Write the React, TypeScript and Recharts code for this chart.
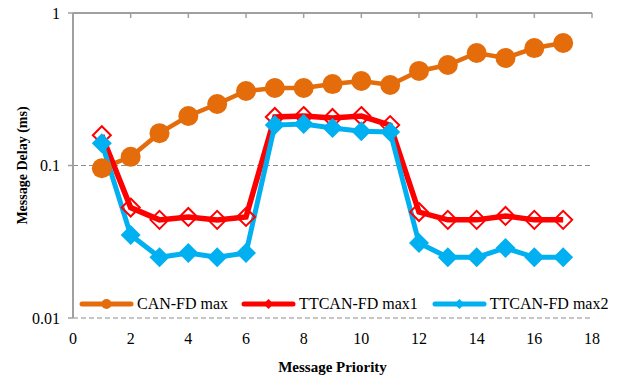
import { CartesianGrid, Legend, Line, LineChart, ReferenceLine, XAxis, YAxis } from "recharts";

const priorities = [1, 2, 3, 4, 5, 6, 7, 8, 9, 10, 11, 12, 13, 14, 15, 16, 17];
const canFdMax = [0.096, 0.114, 0.163, 0.211, 0.253, 0.308, 0.322, 0.322, 0.342, 0.358, 0.337, 0.417, 0.456, 0.547, 0.507, 0.589, 0.636];
const ttcanFdMax1 = [0.158, 0.053, 0.044, 0.046, 0.044, 0.046, 0.208, 0.211, 0.205, 0.211, 0.184, 0.0495, 0.044, 0.044, 0.0467, 0.044, 0.044];
const ttcanFdMax2 = [0.14, 0.035, 0.025, 0.0267, 0.025, 0.0267, 0.184, 0.187, 0.176, 0.168, 0.166, 0.031, 0.025, 0.025, 0.0288, 0.025, 0.025];
const xTicks = [0, 2, 4, 6, 8, 10, 12, 14, 16, 18];
const yTicks = [0.01, 0.1, 1];

const ORANGE = "#E46C0A";
const RED = "#FF0000";
const BLUE = "#00B0F0";
const AXIS = "#A0A0A0";
const GRID = "#8C8C8C";
const FONT = '"Liberation Serif", "Times New Roman", serif';

const data = priorities.map((p, i) => ({
  priority: p,
  canFd: canFdMax[i],
  max1: ttcanFdMax1[i],
  max2: ttcanFdMax2[i],
}));

const diamondPath = (cx: number, cy: number, r: number) =>
  `M${cx},${cy - r} L${cx + r},${cy} L${cx},${cy + r} L${cx - r},${cy} Z`;

const circleDot = (p: any) => <circle key={`c${p.index}`} cx={p.cx} cy={p.cy} r={10} fill={ORANGE} />;
const hollowDiamond = (p: any) => (
  <path key={`h${p.index}`} d={diamondPath(p.cx, p.cy, 9)} fill="none" stroke={RED} strokeWidth={2} />
);
const solidDiamond = (p: any) => <path key={`s${p.index}`} d={diamondPath(p.cx, p.cy, 10)} fill={BLUE} />;

// short tick hanging down from the top frame line
const topTick = (p: any) => {
  const y = Math.min(p.y1, p.y2);
  return <line x1={p.x1} y1={y} x2={p.x1} y2={y + 5} stroke={AXIS} strokeWidth={1.5} />;
};

function LegendRow({ payload }: any) {
  const gaps = [0, 13, 14];
  return (
    <div style={{ display: "flex", alignItems: "center", fontFamily: FONT, fontSize: 16, color: "#000" }}>
      {(payload || []).map((e: any, i: number) => (
        <div key={e.value} style={{ display: "flex", alignItems: "center", marginLeft: gaps[i] }}>
          <svg width={55} height={14} style={{ marginRight: 3 }}>
            <line x1={3} y1={7} x2={52} y2={7} stroke={e.color} strokeWidth={5} strokeLinecap="round" />
            {e.dataKey === "canFd" ? (
              <circle cx={27.5} cy={7} r={5} fill={e.color} />
            ) : (
              <path d={diamondPath(27.5, 7, 5)} fill={e.color} />
            )}
          </svg>
          <span style={{ lineHeight: "16px", whiteSpace: "nowrap" }}>{e.value}</span>
        </div>
      ))}
    </div>
  );
}

export default function App() {
  return (
    <div style={{ width: 620, height: 376, background: "#fff", fontFamily: FONT }}>
      <style>{"body{margin:0}"}</style>
      <LineChart width={620} height={376} data={data} margin={{ top: 13, right: 28, left: 0, bottom: 0 }}>
        <CartesianGrid vertical={false} stroke={GRID} strokeDasharray="5 3" />
        <XAxis
          dataKey="priority"
          type="number"
          domain={[0, 18]}
          ticks={xTicks}
          axisLine={false}
          tickLine={false}
          tickSize={0}
          tickMargin={15}
          height={58}
          tick={{ fontSize: 16, fill: "#000", fontFamily: FONT }}
          label={{
            value: "Message Priority",
            position: "insideBottom",
            offset: 4,
            style: { fontSize: 15, fontWeight: "bold", fill: "#000", fontFamily: FONT },
          }}
        />
        <YAxis
          scale="log"
          domain={[0.01, 1]}
          ticks={yTicks}
          allowDataOverflow
          width={73}
          tickSize={5}
          tickMargin={8}
          tickFormatter={(v) => String(v)}
          axisLine={{ stroke: AXIS, strokeWidth: 2 }}
          tickLine={{ stroke: AXIS, strokeWidth: 1.5 }}
          tick={{ fontSize: 16, fill: "#000", fontFamily: FONT }}
          label={{
            value: "Message Delay (ms)",
            angle: -90,
            position: "insideLeft",
            offset: 22,
            style: { textAnchor: "middle", fontSize: 14, fontWeight: "bold", fill: "#000", fontFamily: FONT },
          }}
        />
        <ReferenceLine y={1} stroke={AXIS} strokeWidth={2} />
        {xTicks.slice(1).map((t) => (
          <ReferenceLine key={t} x={t} shape={topTick} />
        ))}
        <Legend
          layout="horizontal"
          verticalAlign="middle"
          content={<LegendRow />}
          wrapperStyle={{ position: "absolute", left: 79, top: 296, width: "auto", height: "auto" }}
        />
        <Line
          dataKey="canFd"
          name="CAN-FD max"
          stroke={ORANGE}
          strokeWidth={4.5}
          dot={circleDot}
          activeDot={false}
          isAnimationActive={false}
        />
        <Line
          dataKey="max1"
          name="TTCAN-FD max1"
          stroke={RED}
          strokeWidth={5.5}
          dot={hollowDiamond}
          activeDot={false}
          isAnimationActive={false}
        />
        <Line
          dataKey="max2"
          name="TTCAN-FD max2"
          stroke={BLUE}
          strokeWidth={5}
          dot={solidDiamond}
          activeDot={false}
          isAnimationActive={false}
        />
      </LineChart>
    </div>
  );
}
